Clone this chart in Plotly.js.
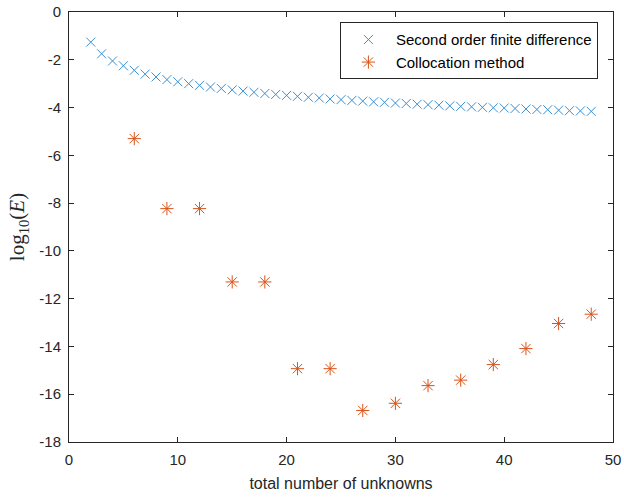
<!DOCTYPE html>
<html>
<head>
<meta charset="utf-8">
<script src="https://cdn.plot.ly/plotly-3.0.1.min.js"></script>
<style>html,body{margin:0;padding:0;background:#fff}#chart{width:624px;height:497px}</style>
</head>
<body>
<div id="chart"></div>
<script>
const fdN = [2,3,4,5,6,7,8,9,10,11,12,13,14,15,16,17,18,19,20,21,22,23,24,25,26,27,28,29,30,31,32,33,34,35,36,37,38,39,40,41,42,43,44,45,46,47,48];
const fdLogE = [-1.26,-1.75,-2.05,-2.25,-2.44,-2.6,-2.72,-2.83,-2.92,-3.0,-3.07,-3.14,-3.2,-3.26,-3.31,-3.36,-3.41,-3.45,-3.49,-3.53,-3.57,-3.6,-3.64,-3.67,-3.7,-3.73,-3.76,-3.78,-3.81,-3.83,-3.86,-3.88,-3.9,-3.93,-3.95,-3.97,-3.99,-4.01,-4.02,-4.04,-4.06,-4.08,-4.09,-4.11,-4.13,-4.14,-4.16];
const colN = [6,9,12,15,18,21,24,27,30,33,36,39,42,45,48];
const colLogE = [-5.30,-8.23,-8.23,-11.30,-11.30,-14.93,-14.93,-16.68,-16.38,-15.64,-15.41,-14.76,-14.09,-13.04,-12.65];
const seriesNames = ['Second order finite difference','Collocation method'];
const xTickVals = [0,10,20,30,40,50];
const xTickText = ['0','10','20','30','40','50'];
const yTickVals = [0,-2,-4,-6,-8,-10,-12,-14,-16,-18];
const yTickText = ['0','-2','-4','-6','-8','-10','-12','-14','-16','-18'];

const traces = [
  {x: fdN, y: fdLogE, type: 'scatter', mode: 'markers', name: seriesNames[0],
   marker: {symbol: 'x-thin-open', size: 9, color: '#3a90d2', line: {color: '#3a90d2', width: 1}}},
  {x: colN, y: colLogE, type: 'scatter', mode: 'markers', name: seriesNames[1],
   marker: {symbol: 'asterisk-open', size: 11, color: '#D95319', line: {color: '#D95319', width: 1}}}
];

const axisCommon = {
  showline: true, linecolor: '#262626', linewidth: 1, mirror: 'ticks',
  ticks: 'inside', ticklen: 5, tickwidth: 1, tickcolor: '#262626',
  showgrid: false, zeroline: false, ticklabelstandoff: 4,
  tickfont: {family: 'Liberation Sans, Arial, sans-serif', size: 15, color: '#262626'}
};

const layout = {
  width: 624, height: 497,
  margin: {l: 69, r: 11, t: 12, b: 55},
  paper_bgcolor: '#fff', plot_bgcolor: '#fff',
  showlegend: true,
  legend: {x: 0.498, y: 0.976, xanchor: 'left', yanchor: 'top',
    bgcolor: '#fff', bordercolor: '#262626', borderwidth: 1,
    itemwidth: 45,
    font: {family: 'Liberation Sans, Arial, sans-serif', size: 15, color: '#000'},
    tracegroupgap: 0},
  xaxis: Object.assign({}, axisCommon, {range: [0, 50], tickmode: 'array', tickvals: xTickVals, ticktext: xTickText,
    title: {text: 'total number of unknowns', standoff: 10,
      font: {family: 'Liberation Sans, Arial, sans-serif', size: 16, color: '#262626'}}}),
  yaxis: Object.assign({}, axisCommon, {range: [-18, 0], tickmode: 'array', tickvals: yTickVals, ticktext: yTickText,
    title: {text: 'log<sub>10</sub>(<i>E</i>)', standoff: 8,
      font: {family: 'Liberation Serif, Times New Roman, serif', size: 21, color: '#262626'}}})
};

Plotly.newPlot('chart', traces, layout, {displayModeBar: false});
</script>
</body>
</html>
